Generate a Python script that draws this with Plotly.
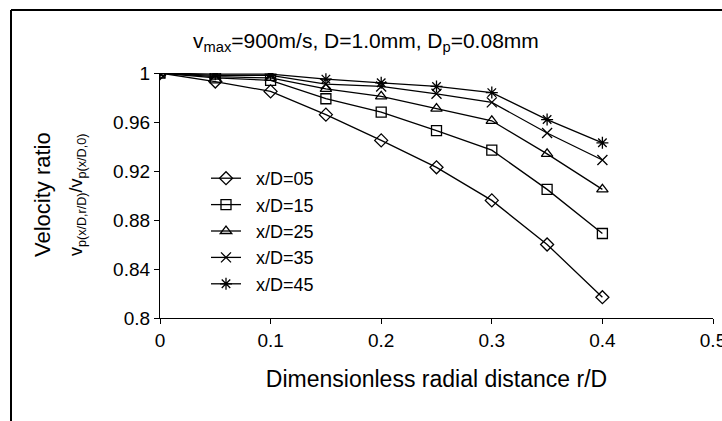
import plotly.graph_objects as go

r_over_D = [0, 0.05, 0.1, 0.15, 0.2, 0.25, 0.3, 0.35, 0.4]
series_names = ["x/D=05", "x/D=15", "x/D=25", "x/D=35", "x/D=45"]
xd05 = [1.0, 0.993, 0.985, 0.966, 0.945, 0.923, 0.896, 0.860, 0.817]
xd15 = [1.0, 0.996, 0.994, 0.979, 0.968, 0.953, 0.937, 0.905, 0.869]
xd25 = [1.0, 0.997, 0.996, 0.987, 0.981, 0.971, 0.961, 0.934, 0.905]
xd35 = [1.0, 0.998, 0.998, 0.991, 0.989, 0.983, 0.976, 0.951, 0.929]
xd45 = [1.0, 0.999, 0.999, 0.995, 0.992, 0.989, 0.984, 0.962, 0.943]
series_values = [xd05, xd15, xd25, xd35, xd45]
symbols = ["diamond-open", "square-open", "triangle-up-open", "x-thin-open", "asterisk-open"]

x_ticks = [0, 0.1, 0.2, 0.3, 0.4, 0.5]
x_tick_labels = ["0", "0.1", "0.2", "0.3", "0.4", "0.5"]
y_ticks = [0.8, 0.84, 0.88, 0.92, 0.96, 1.0]
y_tick_labels = ["0.8", "0.84", "0.88", "0.92", "0.96", "1"]

FONT = "Liberation Sans, Arial, sans-serif"

fig = go.Figure()
for name, vals, sym in zip(series_names, series_values, symbols):
    fig.add_trace(go.Scatter(
        x=r_over_D, y=vals, name="\u00a0\u00a0" + name, mode="lines+markers",
        line=dict(color="black", width=1.3),
        marker=dict(symbol=sym, size=10, color="black", line=dict(color="black", width=1.3)),
    ))

# body margin is removed by post_script, so figure pixels == screen pixels
W, H = 722, 421
L, R, T, B = 160, W - 713, 73, H - 318
pw, ph = W - L - R, H - T - B

def px_x(p):
    return (p - L) / pw

def px_y(p):
    return (H - B - p) / ph

fig.update_layout(
    width=W, height=H,
    margin=dict(l=L, r=R, t=T, b=B, autoexpand=False),
    paper_bgcolor="white", plot_bgcolor="white",
    font=dict(family=FONT, size=19, color="black"),
    showlegend=True,
    legend=dict(x=px_x(206), y=px_y(160), xanchor="left", yanchor="top",
                bgcolor="rgba(0,0,0,0)", font=dict(size=18), tracegroupgap=0),
    xaxis=dict(range=[0, 0.5], tickvals=x_ticks, ticktext=x_tick_labels,
               automargin=False,
               showgrid=False, zeroline=False, showline=True, linecolor="black",
               linewidth=1.2, ticks="outside", ticklen=5, tickcolor="black",
               ticklabeloverflow="allow",
               tickfont=dict(size=19), title=dict(text="Dimensionless radial distance r/D",
                                                  font=dict(size=23), standoff=20)),
    yaxis=dict(range=[0.8, 1.0], tickvals=y_ticks, ticktext=y_tick_labels,
               automargin=False,
               showgrid=False, zeroline=False, showline=True, linecolor="black",
               linewidth=1.2, ticks="outside", ticklen=5, tickcolor="black",
               tickfont=dict(size=19)),
)

fig.add_annotation(text="v<sub>max</sub>=900m/s, D=1.0mm, D<sub>p</sub>=0.08mm",
                   xref="paper", yref="paper", x=px_x(366), y=px_y(42),
                   xanchor="center", yanchor="middle",
                   showarrow=False, font=dict(size=21))
fig.add_annotation(text="Velocity ratio", xref="paper", yref="paper",
                   x=px_x(42), y=px_y(195), textangle=-90, showarrow=False,
                   xanchor="center", yanchor="middle", font=dict(size=22))
fig.add_annotation(text="v<sub>p(x/D,r/D)</sub>/v<sub>p(x/D,0)</sub>", xref="paper", yref="paper",
                   x=px_x(77), y=px_y(195), textangle=-90, showarrow=False,
                   xanchor="center", yanchor="middle", font=dict(size=18))

# outer frame (left and top edges visible)
fig.add_shape(type="line", xref="paper", yref="paper",
              x0=px_x(11), x1=px_x(11), y0=px_y(10), y1=px_y(440),
              line=dict(color="black", width=2))
fig.add_shape(type="line", xref="paper", yref="paper",
              x0=px_x(11), x1=px_x(740), y0=px_y(10), y1=px_y(10),
              line=dict(color="black", width=2))

fig.write_html("out.html",
               config={"displayModeBar": False},
               post_script="document.body.style.margin='0';document.body.style.overflow='hidden';")
